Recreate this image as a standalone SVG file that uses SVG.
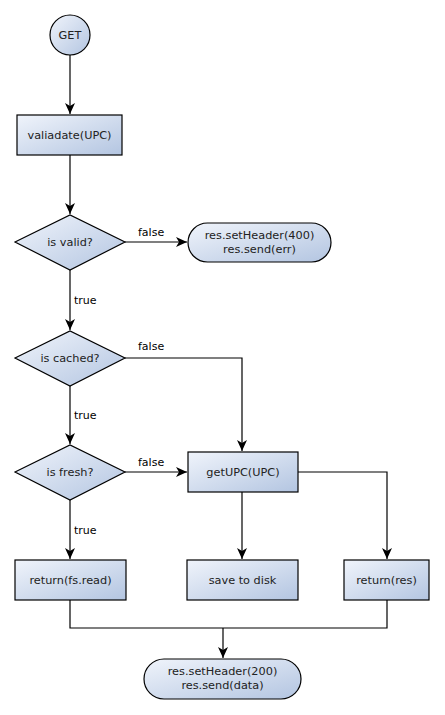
<svg xmlns="http://www.w3.org/2000/svg" width="445" height="715" viewBox="0 0 445 715">
<defs>
<linearGradient id="g" x1="0" y1="0" x2="1" y2="1">
<stop offset="0" stop-color="#f0f4fb"/>
<stop offset="1" stop-color="#b3c5e1"/>
</linearGradient>
<marker id="a" markerWidth="12" markerHeight="10" refX="11" refY="5" orient="auto" markerUnits="userSpaceOnUse">
<path d="M0,0 L11,5 L0,10 L3,5 Z" fill="#000"/>
</marker>
<style>
.n{fill:url(#g);stroke:#000;stroke-width:1.2}
.t{font-family:"DejaVu Sans",sans-serif;font-size:11.3px;fill:#222;text-anchor:middle}
.l{font-family:"DejaVu Sans",sans-serif;font-size:11px;fill:#000}
.c{fill:none;stroke:#000;stroke-width:1.2}
</style>
</defs>
<rect width="445" height="715" fill="#fff"/>
<g id="connectors">
<path class="c" d="M70,55 V114" marker-end="url(#a)"/>
<path class="c" d="M70,155 V214" marker-end="url(#a)"/>
<path class="c" d="M125,242 H187" marker-end="url(#a)"/>
<path class="c" d="M70,270 V330" marker-end="url(#a)"/>
<path class="c" d="M125,358 H242 V451" marker-end="url(#a)"/>
<path class="c" d="M70,386 V444" marker-end="url(#a)"/>
<path class="c" d="M125,472 H187" marker-end="url(#a)"/>
<path class="c" d="M70,500 V559" marker-end="url(#a)"/>
<path class="c" d="M242,492 V559" marker-end="url(#a)"/>
<path class="c" d="M298,472 H387 V559" marker-end="url(#a)"/>
<path class="c" d="M70,600 V628 H387 V600"/>
<path class="c" d="M223,628 V658" marker-end="url(#a)"/>
<text class="l" x="138" y="236">false</text>
<text class="l" x="138" y="350">false</text>
<text class="l" x="138" y="466">false</text>
<text class="l" x="74" y="304">true</text>
<text class="l" x="74" y="419">true</text>
<text class="l" x="74" y="534">true</text>
</g>
<g id="get"><circle class="n" cx="70" cy="35" r="20"/><text class="t" x="70" y="39">GET</text></g>
<g id="validate"><rect class="n" x="17" y="115" width="105" height="40"/><text class="t" x="69.5" y="139">valiadate(UPC)</text></g>
<g id="isvalid"><path class="n" d="M15,242 L70,215 L125,242 L70,270 Z"/><text class="t" x="70" y="246">is valid?</text></g>
<g id="err"><rect class="n" x="188" y="223" width="143" height="39" rx="19.5"/><text class="t" x="259.5" y="239">res.setHeader(400)</text><text class="t" x="259.5" y="253">res.send(err)</text></g>
<g id="iscached"><path class="n" d="M15,358 L70,331 L125,358 L70,386 Z"/><text class="t" x="70" y="362">is cached?</text></g>
<g id="isfresh"><path class="n" d="M15,472 L70,445 L125,472 L70,500 Z"/><text class="t" x="70" y="476">is fresh?</text></g>
<g id="getupc"><rect class="n" x="188" y="452" width="110" height="40"/><text class="t" x="243" y="476">getUPC(UPC)</text></g>
<g id="fsread"><rect class="n" x="15" y="560" width="111" height="40"/><text class="t" x="70.5" y="584">return(fs.read)</text></g>
<g id="save"><rect class="n" x="187" y="560" width="111" height="40"/><text class="t" x="242.5" y="584">save to disk</text></g>
<g id="retres"><rect class="n" x="344" y="560" width="85" height="40"/><text class="t" x="386.5" y="584">return(res)</text></g>
<g id="ok"><rect class="n" x="144" y="659" width="157" height="40" rx="20"/><text class="t" x="222.5" y="675">res.setHeader(200)</text><text class="t" x="222.5" y="689">res.send(data)</text></g>
</svg>
